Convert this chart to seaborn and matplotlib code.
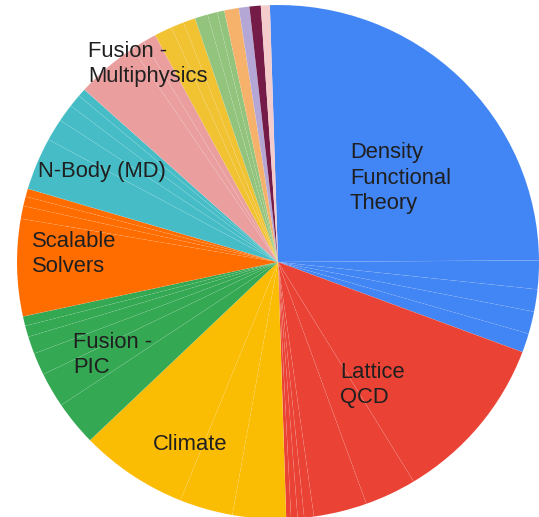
import matplotlib
matplotlib.use("Agg")
import matplotlib.pyplot as plt
import seaborn as sns

# Application areas, listed clockwise from the top of the pie
categories = [
    "Density Functional Theory", "Lattice QCD", "Climate", "Fusion - PIC",
    "Scalable Solvers", "N-Body (MD)", "Fusion - Multiphysics",
    "Other A", "Other B", "Other C", "Other D", "Other E", "Other F",
]

# Share of usage (%) for the individual codes inside each area
dft_codes = [25.4, 1.8, 1.4, 1.4, 1.2]
qcd_codes = [10.6, 3.2, 3.3, 0.6, 0.4, 0.4, 0.3]
climate_codes = [3.3, 3.3, 6.7]
fusion_pic_codes = [2.8, 2.2, 1.4, 1.1, 0.7, 0.6]
solver_codes = [6.1, 0.8, 0.6, 0.5]
nbody_codes = [3.3, 1.4, 1.1, 0.8, 0.5]
fusion_mp_codes = [3.9, 0.8, 0.8]
other_a_codes = [1.1, 0.8, 0.75]
other_b_codes = [0.8, 0.6, 0.45]
other_c_codes = [0.9]
other_d_codes = [0.65]
other_e_codes = [0.7]
other_f_codes = [0.55]

codes_per_area = [
    dft_codes, qcd_codes, climate_codes, fusion_pic_codes, solver_codes,
    nbody_codes, fusion_mp_codes, other_a_codes, other_b_codes,
    other_c_codes, other_d_codes, other_e_codes, other_f_codes,
]

area_colors = [
    "#4285F4", "#EA4335", "#FBBC04", "#34A853", "#FF6D01", "#46BDC6",
    "#EA9E9E", "#F1C232", "#93C47D", "#F6B26B", "#B4A7D6", "#741B47",
    "#F4CCCC",
]

# Text drawn inside the large areas
area_labels = {
    "Density Functional Theory": "Density\nFunctional\nTheory",
    "Lattice QCD": "Lattice\nQCD",
    "Climate": "Climate",
    "Fusion - PIC": "Fusion -\nPIC",
    "Scalable Solvers": "Scalable\nSolvers",
    "N-Body (MD)": "N-Body (MD)",
    "Fusion - Multiphysics": "Fusion -\nMultiphysics",
}

sns.set_theme(style="white")
plt.rcParams["font.family"] = ["Liberation Sans", "DejaVu Sans"]

W, H = 539, 517
fig = plt.figure(figsize=(W / 100, H / 100), dpi=100)
fig.patch.set_facecolor("white")

# Pie occupies a slightly wide box; centre at (278, 262) px
cx, cy, rx, ry = 278, 262, 261, 257
ax = fig.add_axes([(cx - rx) / W, (H - (cy + ry)) / H, 2 * rx / W, 2 * ry / H])

values, colors = [], []
for codes, col in zip(codes_per_area, area_colors):
    values.extend(codes)
    colors.extend([col] * len(codes))

wedges, _ = ax.pie(
    values,
    colors=colors,
    startangle=91.8,
    counterclock=False,
    radius=1.0,
    wedgeprops=dict(linewidth=0),
)
# Very faint white seams between individual codes
for w in wedges:
    w.set_edgecolor((1, 1, 1, 0.10))
    w.set_linewidth(0.35)
ax.set_aspect("auto")
ax.set_xlim(-1, 1)
ax.set_ylim(-1, 1)
ax.axis("off")

# Label anchors in pixels (left edge, vertical centre of the block)
label_pos = {
    "Density Functional Theory": (350, 178),
    "Lattice QCD": (340, 385),
    "Climate": (153, 445),
    "Fusion - PIC": (73, 355),
    "Scalable Solvers": (32, 254),
    "N-Body (MD)": (38, 172),
    "Fusion - Multiphysics": (88, 64),
}
for key, text in area_labels.items():
    px, py = label_pos[key]
    fig.text(px / W, 1 - py / H, text, ha="left", va="center",
             fontsize=15.8, color="#1f1f1f", linespacing=1.27)

fig.savefig("out.png", dpi=100, facecolor="white")
